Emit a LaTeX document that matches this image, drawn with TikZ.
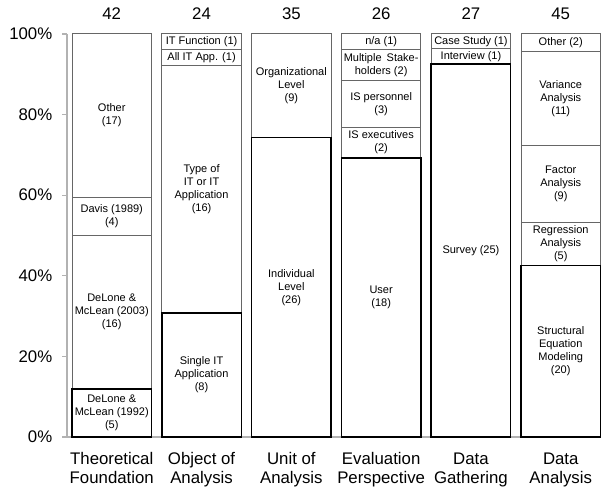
\documentclass[tikz,border=0pt]{standalone}
\usepackage{fontspec}
\setmainfont{Liberation Sans}
\usetikzlibrary{math}

\definecolor{axisgray}{gray}{0.7}
\definecolor{boxgray}{gray}{0.4}

\begin{document}
\begin{tikzpicture}[x=0.75pt, y=0.75pt,
    part/.style={draw=boxgray, line width=0.75pt},
    mainpart/.style={draw=black, line width=1.1pt},
    partlabel/.style={font=\fontsize{8.25}{9.75}\selectfont, align=center, inner sep=0pt},
    axislabel/.style={font=\fontsize{12.6}{15}\selectfont, align=center, inner sep=0pt}]
    \tikzmath{\yz = 53; \yh = 403; \w = 79.5; \dx = 89.8;}
    \fill[white] (0,0) rectangle (601,490);
    \useasboundingbox (0,0) rectangle (601,490);

    % axis
    \draw[axisgray, line width=0.8pt] (67,\yz) -- (67,\yz+\yh);
    \draw[axisgray, line width=0.8pt] (62,\yz) -- (601,\yz);
    \foreach \p in {0,20,...,100}
    {
        \draw[axisgray, line width=0.8pt] (62,{\yz+\yh*(\p/100)}) -- (67,{\yz+\yh*(\p/100)});
        \node[axislabel, anchor=east] (tick\p) at (52.5,{\yz+\yh*(\p/100)}) {\p\%};
    }

    % upper parts of the bars
    \foreach \i/\lo/\hi/\tot/\txt in {
        0/5/21/42/{DeLone \&\\McLean (2003)\\(16)},
        0/21/25/42/{Davis (1989)\\(4)},
        0/25/42/42/{Other\\(17)},
        1/8/24/26/{Type of\\IT or IT\\Application\\(16)},
        1/24/25/26/{All IT App. (1)},
        1/25/26/26/{IT Function (1)},
        2/26/35/35/{Organizational\\Level\\(9)},
        3/18/20/26/{IS executives\\(2)},
        3/20/23/26/{IS personnel\\(3)},
        3/23/25/26/{Multiple\hspace{1.5pt} Stake-\\holders (2)},
        3/25/26/26/{n/a (1)},
        4/25/26/27/{Interview (1)},
        4/26/27/27/{Case Study (1)},
        5/20/25/47/{Regression\\Analysis\\(5)},
        5/25/34/47/{Factor\\Analysis\\(9)},
        5/34/45/47/{Variance\\Analysis\\(11)},
        5/45/47/47/{Other (2)}}
    {
        \draw[part] ({72+\dx*\i},{\yz+\yh*(\lo/\tot)}) rectangle ({72+\dx*\i+\w},{\yz+\yh*(\hi/\tot)});
        \node[partlabel] (p\i-\lo) at ({72+\dx*\i+\w/2},{\yz+\yh*((\lo+\hi)/(2*\tot))}) {\txt};
    }

    % bottom parts
    \foreach \i/\hi/\tot/\txt in {
        0/5/42/{DeLone \&\\McLean (1992)\\(5)},
        1/8/26/{Single IT\\Application\\(8)},
        2/26/35/{Individual\\Level\\(26)},
        3/18/26/{User\\(18)},
        4/25/27/{Survey (25)},
        5/20/47/{Structural\\Equation\\Modeling\\(20)}}
    {
        \draw[mainpart] ({72+\dx*\i},\yz) rectangle ({72+\dx*\i+\w},{\yz+\yh*(\hi/\tot)});
        \node[partlabel] (p\i-0) at ({72+\dx*\i+\w/2},{\yz+\yh*(\hi/(2*\tot))}) {\txt};
    }

    % counts and categories
    \foreach \i/\n/\txt in {0/42/{Theoretical\\Foundation}, 1/24/{Object of\\Analysis},
        2/35/{Unit of\\Analysis}, 3/26/{Evaluation\\Perspective}, 4/27/{Data\\Gathering},
        5/45/{Data\\Analysis}}
    {
        \node[axislabel, anchor=base] (n\i) at ({72+\dx*\i+\w/2},470) {\n};
        \node[axislabel, anchor=base] (c\i) at ({72+\dx*\i+\w/2},6) {\txt};
    }
\end{tikzpicture}
\end{document}
